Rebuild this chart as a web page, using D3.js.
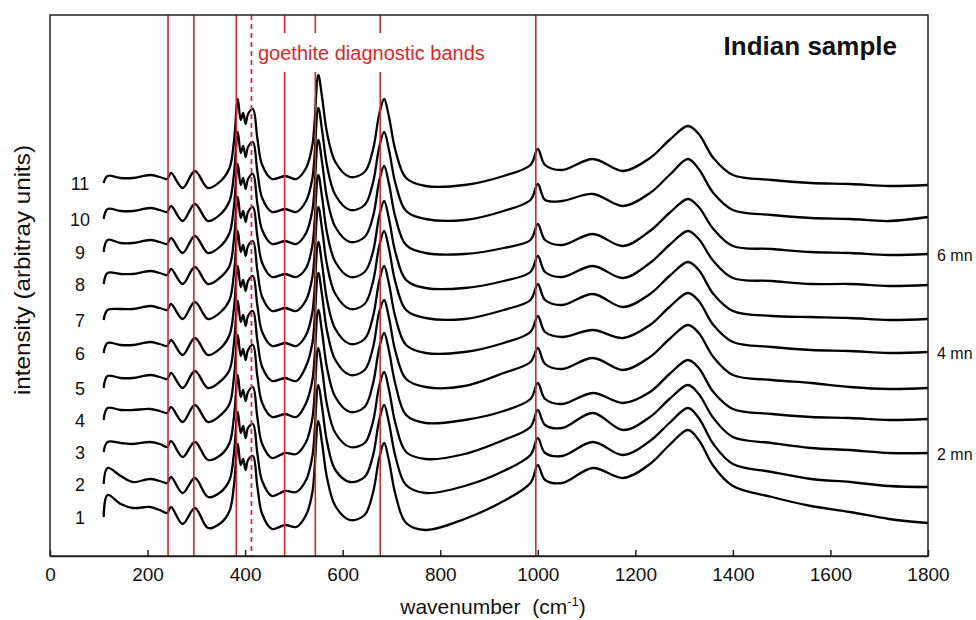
<!DOCTYPE html>
<html lang="en">
<head>
<meta charset="UTF-8">
<title>Indian sample</title>
<script src="https://cdn.jsdelivr.net/npm/d3@7"></script>
<style>
  body { margin: 0; background: #fff; }
  text { font-family: "Liberation Sans", Arial, sans-serif; }
</style>
</head>
<body>
<svg width="976" height="620"></svg>
<script>
// wavenumber knots (cm-1)
var wavenumbers = [110,118,145,170,205,225,240,248,272,297,324,350,368,377,385,391,396,401,406,416,425,435,455,482,505,525,538,550,558,568,585,615,645,662,675,685,695,708,730,770,850,930,985,1000,1015,1050,1113,1175,1230,1270,1308,1330,1360,1400,1480,1560,1640,1720,1800]

// one array per spectrum, bottom (1) to top (11), arbitrary units
var spectrum1 = [40,62,53,49,50,47,44,50,33,49,29,34,46,71,113,92,98,87,97,101,71,43,28,32,30,42,65,136,113,79,51,37,42,64,99,114,96,63,34,27,38,56,74,92,77,74,89,79,93,112,127,117,91,71,60,51,45,38,34]
var spectrum2 = [73,89,81,75,78,76,74,80,64,79,60,65,77,103,145,124,131,119,129,133,104,76,61,66,65,77,101,172,149,115,87,75,80,101,137,152,134,101,72,64,71,86,102,119,104,101,115,102,116,134,149,139,113,93,85,78,75,71,70]
var spectrum3 = [105,115,114,113,115,113,110,116,100,115,97,102,114,139,182,160,167,156,165,170,140,113,99,104,103,115,139,209,187,152,124,110,114,135,171,185,167,134,105,98,103,117,130,147,132,129,144,127,140,158,172,163,139,120,114,109,107,104,104]
var spectrum4 = [137,149,147,147,148,146,144,150,135,152,135,142,153,179,222,201,208,197,207,212,181,154,140,143,140,154,177,247,224,189,160,145,150,173,209,224,206,173,142,134,137,146,158,174,158,153,164,154,165,183,197,189,165,148,143,140,139,137,138]
var spectrum5 = [169,181,179,179,182,180,178,184,169,186,169,176,187,213,256,235,242,231,241,246,217,190,176,179,176,191,214,284,261,226,197,182,187,209,245,257,239,206,178,170,171,184,195,209,193,188,199,187,200,218,232,224,200,182,177,174,170,168,169]
var spectrum6 = [204,214,212,212,215,213,211,217,202,219,202,209,222,248,291,270,277,266,276,281,252,225,211,214,211,222,245,315,292,257,228,213,218,240,276,291,273,240,212,204,205,214,225,241,225,220,227,219,232,250,264,256,232,215,210,207,206,204,205]
var spectrum7 = [237,247,248,248,251,249,247,253,238,255,238,245,257,283,326,305,312,301,311,316,287,260,246,249,246,257,280,350,327,292,263,248,253,275,311,326,308,275,247,239,238,247,257,273,257,252,263,250,263,281,295,287,263,246,241,240,239,237,238]
var spectrum8 = [273,284,283,283,286,284,282,288,273,290,273,280,291,317,360,339,346,335,345,350,321,294,280,283,280,289,312,382,359,324,295,280,285,305,341,356,338,305,277,269,269,276,285,301,285,280,291,279,294,312,326,318,296,279,276,273,273,271,272]
var spectrum9 = [305,317,314,314,317,315,313,319,304,321,304,311,324,350,393,372,379,368,378,383,354,327,313,316,313,324,347,417,394,359,330,315,320,340,376,391,373,340,312,304,303,309,317,333,317,312,323,311,326,344,358,350,328,311,308,305,304,302,303]
var spectrum10 = [338,348,346,346,349,347,345,351,336,353,336,343,356,382,425,404,411,400,410,415,386,359,345,348,345,356,379,449,426,391,362,347,352,374,410,425,407,374,346,338,337,346,357,373,357,356,363,351,364,382,398,388,364,347,342,339,338,336,340]
var spectrum11 = [374,381,379,379,382,380,378,384,369,386,369,376,389,415,458,437,444,433,443,448,419,392,378,381,378,389,412,482,459,424,395,380,385,407,443,458,440,407,379,371,372,381,392,408,392,387,398,386,399,417,431,423,399,382,377,374,373,371,372]

var spectra = [spectrum1, spectrum2, spectrum3, spectrum4, spectrum5, spectrum6, spectrum7, spectrum8, spectrum9, spectrum10, spectrum11]
var seriesLabels = ['1', '2', '3', '4', '5', '6', '7', '8', '9', '10', '11']

// time labels at the right end of some spectra (index into spectra)
var timeLabels = ['2 mn', '4 mn', '6 mn']
var timeLabelSeries = [2, 5, 8]

// goethite bands (cm-1); the 413 one is dashed
var bandPositions = [242, 295, 382, 413, 481, 544, 677, 996]
var dashedBands = [413]
var brokenBands = [481, 544, 677] // interrupted behind the red caption

var xTicks = [0, 200, 400, 600, 800, 1000, 1200, 1400, 1600, 1800]

var svg = d3.select('svg')
var plotL = 50, plotR = 928, plotT = 15, plotB = 556

var x = d3.scaleLinear().domain([0, 1800]).range([plotL, plotR])
var y = d3.scaleLinear().domain([1, 542]).range([plotB, plotT])

svg.append('rect').attr('width', 976).attr('height', 620).attr('fill', '#fff')

// spectra
var line = d3.line()
    .x(function (d, i) { return x(wavenumbers[i]) })
    .y(function (d) { return y(d) })
    .curve(d3.curveCatmullRom.alpha(0.5))

svg.append('g').selectAll('path').data(spectra).enter().append('path')
    .attr('d', line)
    .attr('fill', 'none')
    .attr('stroke', '#000')
    .attr('stroke-width', 2.3)
    .attr('stroke-linejoin', 'round')

// red band markers
var bands = svg.append('g')
bandPositions.forEach(function (b) {
    var dashed = dashedBands.indexOf(b) >= 0
    var segs = brokenBands.indexOf(b) >= 0 ? [[plotT, 33], [72, plotB]] : [[plotT, plotB]]
    segs.forEach(function (s) {
        bands.append('line')
            .attr('x1', x(b)).attr('x2', x(b))
            .attr('y1', s[0]).attr('y2', s[1])
            .attr('stroke', dashed ? '#d42a55' : '#e3201c')
            .attr('stroke-width', dashed ? 1.8 : 1.6)
            .attr('stroke-dasharray', dashed ? '5,4' : null)
    })
})

// frame + x axis
svg.append('rect')
    .attr('x', plotL).attr('y', plotT)
    .attr('width', plotR - plotL).attr('height', plotB - plotT)
    .attr('fill', 'none').attr('stroke', '#222').attr('stroke-width', 1.5)

var axisX = d3.axisBottom(x).tickValues(xTicks).tickFormat(d3.format('d'))
    .tickSizeInner(-6).tickSizeOuter(0).tickPadding(12)
var gx = svg.append('g').attr('transform', 'translate(0,' + plotB + ')').call(axisX)
gx.select('.domain').attr('stroke', '#222').attr('stroke-width', 1.5)
gx.selectAll('.tick line').attr('stroke', '#222').attr('stroke-width', 1.5)
gx.selectAll('.tick text').attr('font-size', 19).attr('fill', '#111')
    .style('font-family', '"Liberation Sans", Arial, sans-serif')

// spectrum numbers on the left
svg.append('g').selectAll('text').data(spectra).enter().append('text')
    .attr('x', 80)
    .attr('y', function (d) { return y(d[0]) + 7 })
    .attr('text-anchor', 'middle')
    .attr('font-size', 18)
    .attr('fill', '#111')
    .text(function (d, i) { return seriesLabels[i] })

// time labels on the right
timeLabels.forEach(function (t, i) {
    var s = spectra[timeLabelSeries[i]]
    svg.append('text')
        .attr('x', 937)
        .attr('y', y(s[s.length - 1]) + 7)
        .attr('font-size', 16)
        .attr('fill', '#111')
        .text(t)
})

// titles
svg.append('text').attr('x', 897).attr('y', 55).attr('text-anchor', 'end')
    .attr('font-size', 26).attr('font-weight', 'bold').attr('fill', '#111')
    .text('Indian sample')

svg.append('text').attr('x', 258).attr('y', 60)
    .attr('font-size', 20).attr('fill', '#e0262a')
    .text('goethite diagnostic bands')

// axis titles
var xl = svg.append('text').attr('x', 493).attr('y', 614).attr('text-anchor', 'middle')
    .attr('font-size', 21).attr('fill', '#111')
xl.append('tspan').text('wavenumber\u00a0 (cm')
xl.append('tspan').attr('font-size', 13).attr('dy', -8).text('-1')
xl.append('tspan').attr('dy', 8).text(')')

svg.append('text')
    .attr('transform', 'translate(30,270) rotate(-90)')
    .attr('text-anchor', 'middle')
    .attr('font-size', 22).attr('fill', '#111')
    .attr('textLength', 250).attr('lengthAdjust', 'spacingAndGlyphs')
    .text('intensity (arbitray units)')
</script>
</body>
</html>
